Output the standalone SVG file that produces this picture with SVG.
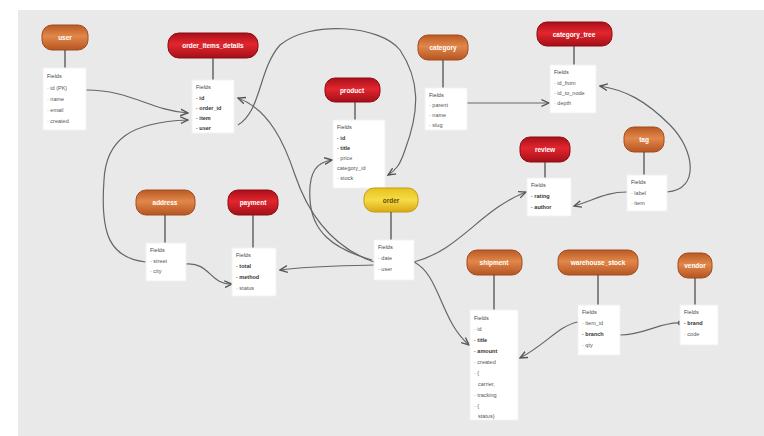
<svg xmlns="http://www.w3.org/2000/svg" width="764" height="436" viewBox="0 0 764 436">
<defs>
<linearGradient id="gRed" x1="0" y1="0" x2="0" y2="1">
<stop offset="0" stop-color="#a8101a"/><stop offset="0.45" stop-color="#e3262e"/><stop offset="1" stop-color="#a30f18"/>
</linearGradient>
<linearGradient id="gOrange" x1="0" y1="0" x2="0" y2="1">
<stop offset="0" stop-color="#b95a24"/><stop offset="0.45" stop-color="#e2874a"/><stop offset="1" stop-color="#b55522"/>
</linearGradient>
<linearGradient id="gYellow" x1="0" y1="0" x2="0" y2="1">
<stop offset="0" stop-color="#e6c21e"/><stop offset="0.5" stop-color="#f6dc48"/><stop offset="1" stop-color="#d9a914"/>
</linearGradient>
<marker id="arr" viewBox="0 0 10 10" refX="9" refY="5" markerWidth="7" markerHeight="7" orient="auto-start-reverse">
<path d="M0,1 L9,5 L0,9" fill="none" stroke="#555" stroke-width="1.6"/>
</marker>
<marker id="dot" viewBox="0 0 10 10" refX="5" refY="5" markerWidth="5" markerHeight="5">
<circle cx="5" cy="5" r="4" fill="#666"/>
</marker>
</defs>
<style>
.red{fill:url(#gRed);stroke:#8c0c12;stroke-width:1}
.orange{fill:url(#gOrange);stroke:#a24c1c;stroke-width:1}
.yellow{fill:url(#gYellow);stroke:#c79a10;stroke-width:1}
.pl{font-family:"Liberation Sans",Arial,sans-serif;font-size:6.5px;font-weight:bold;fill:#fff;text-anchor:middle}
.yl{fill:#6a4a00}
.stem{stroke:#444;stroke-width:1.2}
.box{fill:#fff;stroke:#f2f2f2;stroke-width:1}
.hd{font-family:"Liberation Sans",Arial,sans-serif;font-size:5.5px;fill:#444}
.it{font-family:"Liberation Sans",Arial,sans-serif;font-size:5.5px;fill:#555}
.b{font-weight:bold;fill:#333}
.con{fill:none;stroke:#666;stroke-width:1.2}
</style>
<rect x="0" y="0" width="764" height="436" fill="#ffffff"/>
<rect x="18" y="10" width="746" height="426" fill="#e9e9e9"/>

<g id="connectors">
<path class="con" d="M86,90 C130,90 150,110 188,113" marker-end="url(#arr)"/>
<path class="con" d="M146,262 C110,258 100,235 104,180 C106,140 130,122 188,120" marker-end="url(#arr)"/>
<path class="con" d="M374,262 C340,250 312,225 295,175 C285,145 270,110 238,98" marker-end="url(#arr)"/>
<path class="con" d="M238,125 C262,110 258,70 280,45 C310,20 380,25 400,50 C420,80 420,110 405,150 C400,165 396,170 388,175" marker-end="url(#arr)"/>
<path class="con" d="M374,265 C340,266 310,266 280,270" marker-end="url(#arr)"/>
<path class="con" d="M372,260 C330,248 312,230 310,200 C308,170 318,162 332,160" marker-end="url(#arr)"/>
<path class="con" d="M186,264 C210,262 210,285 232,284" marker-end="url(#arr)"/>
<path class="con" d="M467,103 L549,103" marker-end="url(#arr)"/>
<path class="con" d="M667,192 C700,190 695,150 670,125 C645,100 625,90 600,86" marker-end="url(#arr)"/>
<path class="con" d="M627,192 C605,192 595,200 574,206" marker-end="url(#arr)"/>
<path class="con" d="M414,262 C460,250 480,210 526,192" marker-end="url(#arr)"/>
<path class="con" d="M414,262 C440,275 440,320 469,345" marker-end="url(#arr)"/>
<path class="con" d="M578,322 C560,325 545,345 520,358" marker-end="url(#arr)"/>
<path class="con" d="M620,335 C645,335 660,322 680,323" marker-end="url(#dot)"/>
</g>

<g id="t_user">
<rect class="orange" x="42" y="25" width="46" height="25" rx="10"/>
<text class="pl" x="65" y="40">user</text>
<line class="stem" x1="65" y1="50" x2="65" y2="68"/>
<rect class="box" x="43" y="68" width="43" height="62"/>
<text class="hd" x="47" y="78">Fields</text>
<text class="it" x="47" y="90">· id (PK)</text>
<text class="it" x="47" y="101">· name</text>
<text class="it" x="47" y="112">· email</text>
<text class="it" x="47" y="123">· created</text>
</g>

<g id="t_order_items">
<rect class="red" x="168" y="33" width="90" height="25" rx="11"/>
<text class="pl" x="213" y="48">order_items_details</text>
<line class="stem" x1="213" y1="58" x2="213" y2="80"/>
<rect class="box" x="192" y="80" width="42" height="53"/>
<text class="hd" x="196" y="89">Fields</text>
<text class="it b" x="196" y="100">· id</text>
<text class="it b" x="196" y="110">· order_id</text>
<text class="it b" x="196" y="120">· item</text>
<text class="it b" x="196" y="130">· user</text>
</g>

<g id="t_product">
<rect class="red" x="325" y="78" width="55" height="24" rx="10"/>
<text class="pl" x="352" y="93">product</text>
<line class="stem" x1="355" y1="102" x2="355" y2="120"/>
<rect class="box" x="333" y="120" width="52" height="68"/>
<text class="hd" x="337" y="129">Fields</text>
<text class="it b" x="337" y="140">· id</text>
<text class="it b" x="337" y="150">· title</text>
<text class="it" x="337" y="160">· price</text>
<text class="it" x="337" y="170">category_id</text>
<text class="it" x="337" y="180">· stock</text>
</g>

<g id="t_category">
<rect class="orange" x="418" y="35" width="50" height="25" rx="10"/>
<text class="pl" x="443" y="50">category</text>
<line class="stem" x1="443" y1="60" x2="443" y2="88"/>
<rect class="box" x="425" y="88" width="42" height="42"/>
<text class="hd" x="429" y="97">Fields</text>
<text class="it" x="429" y="107">· parent</text>
<text class="it" x="429" y="117">· name</text>
<text class="it" x="429" y="127">· slug</text>
</g>

<g id="t_category_tree">
<rect class="red" x="537" y="22" width="75" height="24" rx="10"/>
<text class="pl" x="574" y="37">category_tree</text>
<line class="stem" x1="574" y1="46" x2="574" y2="65"/>
<rect class="box" x="550" y="65" width="46" height="48"/>
<text class="hd" x="554" y="74">Fields</text>
<text class="it" x="554" y="85">· id_from</text>
<text class="it" x="554" y="95">· id_to_node</text>
<text class="it" x="554" y="105">· depth</text>
</g>

<g id="t_review">
<rect class="red" x="520" y="137" width="50" height="25" rx="10"/>
<text class="pl" x="545" y="152">review</text>
<line class="stem" x1="545" y1="162" x2="545" y2="178"/>
<rect class="box" x="527" y="178" width="44" height="38"/>
<text class="hd" x="531" y="187">Fields</text>
<text class="it b" x="531" y="198">· rating</text>
<text class="it b" x="531" y="209">· author</text>
</g>

<g id="t_tag">
<rect class="orange" x="624" y="127" width="40" height="25" rx="10"/>
<text class="pl" x="644" y="142">tag</text>
<line class="stem" x1="644" y1="152" x2="644" y2="175"/>
<rect class="box" x="627" y="175" width="40" height="36"/>
<text class="hd" x="631" y="184">Fields</text>
<text class="it" x="631" y="195">· label</text>
<text class="it" x="631" y="205">· item</text>
</g>

<g id="t_address">
<rect class="orange" x="136" y="190" width="59" height="25" rx="10"/>
<text class="pl" x="165" y="205">address</text>
<line class="stem" x1="165" y1="215" x2="165" y2="243"/>
<rect class="box" x="146" y="243" width="40" height="38"/>
<text class="hd" x="150" y="252">Fields</text>
<text class="it" x="150" y="263">· street</text>
<text class="it" x="150" y="273">· city</text>
</g>

<g id="t_payment">
<rect class="red" x="228" y="190" width="50" height="25" rx="10"/>
<text class="pl" x="253" y="205">payment</text>
<line class="stem" x1="253" y1="215" x2="253" y2="248"/>
<rect class="box" x="232" y="248" width="44" height="48"/>
<text class="hd" x="236" y="257">Fields</text>
<text class="it b" x="236" y="268">· total</text>
<text class="it b" x="236" y="279">· method</text>
<text class="it" x="236" y="290">· status</text>
</g>

<g id="t_order">
<rect class="yellow" x="364" y="188" width="54" height="24" rx="10"/>
<text class="pl yl" x="391" y="203">order</text>
<line class="stem" x1="391" y1="212" x2="391" y2="240"/>
<rect class="box" x="374" y="240" width="40" height="40"/>
<text class="hd" x="378" y="249">Fields</text>
<text class="it" x="378" y="260">· date</text>
<text class="it" x="378" y="271">· user</text>
</g>

<g id="t_shipment">
<rect class="orange" x="467" y="250" width="55" height="25" rx="10"/>
<text class="pl" x="494" y="265">shipment</text>
<line class="stem" x1="494" y1="275" x2="494" y2="310"/>
<rect class="box" x="470" y="310" width="48" height="110"/>
<text class="hd" x="474" y="320">Fields</text>
<text class="it" x="474" y="331">· id</text>
<text class="it b" x="474" y="342">· title</text>
<text class="it b" x="474" y="353">· amount</text>
<text class="it" x="474" y="364">· created</text>
<text class="it" x="474" y="375">· {</text>
<text class="it" x="478" y="386">carrier,</text>
<text class="it" x="474" y="397">· tracking</text>
<text class="it" x="474" y="408">· {</text>
<text class="it" x="478" y="418">status}</text>
</g>

<g id="t_warehouse_stock">
<rect class="orange" x="558" y="250" width="80" height="25" rx="10"/>
<text class="pl" x="598" y="265">warehouse_stock</text>
<line class="stem" x1="598" y1="275" x2="598" y2="305"/>
<rect class="box" x="578" y="305" width="42" height="50"/>
<text class="hd" x="582" y="314">Fields</text>
<text class="it" x="582" y="325">· item_id</text>
<text class="it b" x="582" y="336">· branch</text>
<text class="it" x="582" y="347">· qty</text>
</g>

<g id="t_vendor">
<rect class="orange" x="678" y="253" width="34" height="25" rx="10"/>
<text class="pl" x="695" y="268">vendor</text>
<line class="stem" x1="695" y1="278" x2="695" y2="305"/>
<rect class="box" x="680" y="305" width="38" height="40"/>
<text class="hd" x="684" y="314">Fields</text>
<text class="it b" x="684" y="325">· brand</text>
<text class="it" x="684" y="336">· code</text>
</g>
</svg>
